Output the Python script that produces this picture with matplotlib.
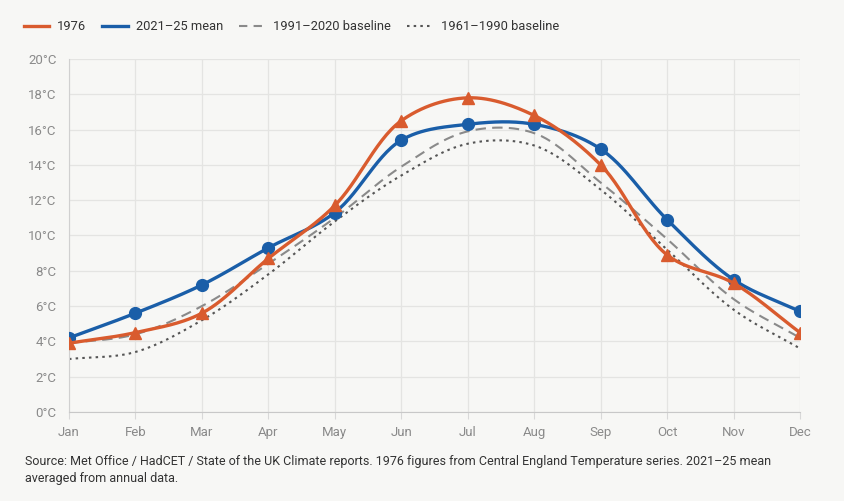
import numpy as np
import matplotlib
matplotlib.use("Agg")
import matplotlib.pyplot as plt
from matplotlib.lines import Line2D

plt.rcParams['font.family'] = ['Roboto', 'DejaVu Sans']

months = ["Jan", "Feb", "Mar", "Apr", "May", "Jun", "Jul", "Aug", "Sep", "Oct", "Nov", "Dec"]
y1976 = [3.9, 4.5, 5.6, 8.7, 11.7, 16.5, 17.8, 16.8, 14.0, 8.9, 7.3, 4.5]
y2021_25 = [4.2, 5.6, 7.2, 9.3, 11.3, 15.4, 16.3, 16.3, 14.9, 10.9, 7.5, 5.7]
base_1991_2020 = [3.9, 4.4, 6.0, 8.4, 11.0, 13.9, 15.9, 15.8, 13.0, 9.8, 6.4, 4.2]
base_1961_1990 = [3.0, 3.4, 5.2, 7.8, 10.8, 13.4, 15.2, 15.1, 12.6, 9.2, 5.8, 3.6]
yticks = [0, 2, 4, 6, 8, 10, 12, 14, 16, 18, 20]

ORANGE = "#d95b2e"
BLUE = "#1a5ea8"
BG = "#f7f7f5"


def catmull_rom(x, y, n=30, alpha=0.5):
    x = np.asarray(x, float); y = np.asarray(y, float)
    P = np.column_stack([x, y])
    P = np.vstack([2 * P[0] - P[1], P, 2 * P[-1] - P[-2]])
    out = []
    for i in range(1, len(P) - 2):
        p0, p1, p2, p3 = P[i - 1], P[i], P[i + 1], P[i + 2]
        t0 = 0.0
        t1 = t0 + np.linalg.norm(p1 - p0) ** alpha
        t2 = t1 + np.linalg.norm(p2 - p1) ** alpha
        t3 = t2 + np.linalg.norm(p3 - p2) ** alpha
        t = np.linspace(t1, t2, n)[:, None]
        A1 = (t1 - t) / (t1 - t0) * p0 + (t - t0) / (t1 - t0) * p1
        A2 = (t2 - t) / (t2 - t1) * p1 + (t - t1) / (t2 - t1) * p2
        A3 = (t3 - t) / (t3 - t2) * p2 + (t - t2) / (t3 - t2) * p3
        B1 = (t2 - t) / (t2 - t0) * A1 + (t - t0) / (t2 - t0) * A2
        B2 = (t3 - t) / (t3 - t1) * A2 + (t - t1) / (t3 - t1) * A3
        C = (t2 - t) / (t2 - t1) * B1 + (t - t1) / (t2 - t1) * B2
        out.append(C if i == len(P) - 3 else C[:-1])
    C = np.vstack(out)
    return C[:, 0], C[:, 1]


fig = plt.figure(figsize=(8.45, 5.01), dpi=100, facecolor=BG)
ax = fig.add_axes([69 / 845, 1 - 412 / 501, (800 - 69) / 845, (412 - 59) / 501])
ax.set_facecolor(BG)

x = np.arange(len(months))
sx = 66.45 / 17.65

for data, style, col, lw in [(base_1961_1990, (0, (1.2, 2.0)), "#555555", 1.5),
                             (base_1991_2020, (0, (5, 3)), "#8a8a8a", 1.5)]:
    xs, ys = catmull_rom(x * sx, data)
    ax.plot(xs / sx, ys, linestyle=style, color=col, lw=lw, zorder=2)

xs, ys = catmull_rom(x * sx, y2021_25)
ax.plot(xs / sx, ys, color=BLUE, lw=2.4, zorder=3, solid_capstyle='round')
ax.plot(x, y2021_25, 'o', color=BLUE, ms=8.5, zorder=4)

xs, ys = catmull_rom(x * sx, y1976)
ax.plot(xs / sx, ys, color=ORANGE, lw=2.4, zorder=5, solid_capstyle='round')
ax.plot(x, y1976, '^', color=ORANGE, ms=8.5, zorder=6)

ax.set_xlim(0, 11)
ax.set_ylim(0, 20)
ax.set_yticks(yticks)
ax.set_yticklabels([f"{v}°C" for v in yticks])
ax.set_xticks(x)
ax.set_xticklabels(months)
ax.grid(True, color="#e4e4e2", lw=0.9)
ax.set_axisbelow(True)
for s in ["top", "right"]:
    ax.spines[s].set_visible(False)
ax.spines["left"].set_color("#d0d0d0")
ax.spines["bottom"].set_color("#c8c8c8")
ax.tick_params(axis='y', length=0, pad=9, labelsize=9.5, labelcolor="#8a8a8a")
ax.tick_params(axis='x', length=5, color="#d8d8d8", pad=5, labelsize=9.5, labelcolor="#8a8a8a")

handles = [Line2D([], [], color=ORANGE, lw=2.4),
           Line2D([], [], color=BLUE, lw=2.4),
           Line2D([], [], color="#8a8a8a", lw=1.5, linestyle=(0, (4, 3))),
           Line2D([], [], color="#555555", lw=1.5, linestyle=(0, (1.2, 2.0)))]
labels = ["1976", "2021–25 mean", "1991–2020 baseline", "1961–1990 baseline"]
fig.legend(handles, labels, loc="center left", bbox_to_anchor=(12 / 845, 1 - 27 / 501),
           ncol=4, frameon=False, fontsize=9.3, handlelength=1.95, handletextpad=0.65,
           columnspacing=1.25, labelcolor="#333333")

fig.text(25 / 845, 1 - 470 / 501,
         "Source: Met Office / HadCET / State of the UK Climate reports. 1976 figures from Central England Temperature series. 2021–25 mean\naveraged from annual data.",
         fontsize=9, color="#333333", va="center", ha="left", linespacing=1.35)

fig.savefig("out.png", dpi=100, facecolor=BG)
